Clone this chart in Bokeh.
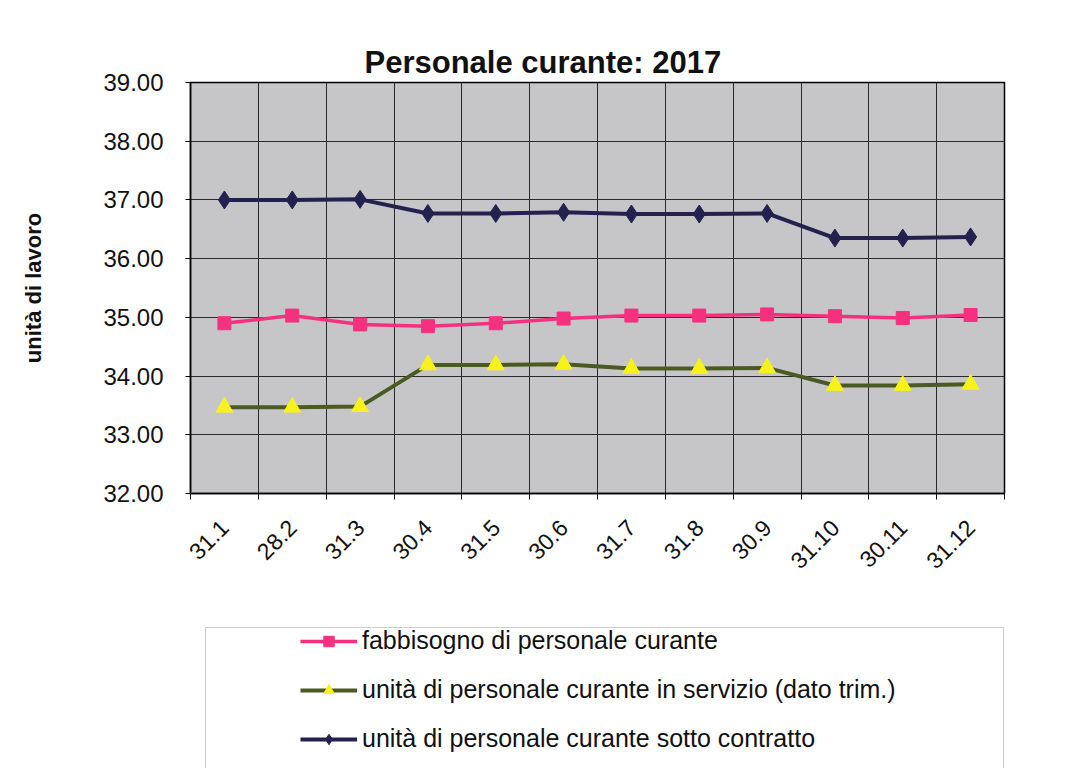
import math
from bokeh.plotting import figure
from bokeh.layouts import column
from bokeh.models import (Range1d, FixedTicker, NumeralTickFormatter, Legend,
                          LegendItem, BoxAnnotation)
from bokeh.embed import file_html
from bokeh.resources import INLINE

# Month-end reference dates
categories = ["31.1", "28.2", "31.3", "30.4", "31.5", "30.6",
              "31.7", "31.8", "30.9", "31.10", "30.11", "31.12"]

# Staff units (unità di lavoro)
fabbisogno = [34.90, 35.03, 34.88, 34.85, 34.90, 34.98,
              35.03, 35.03, 35.05, 35.02, 34.99, 35.04]
in_servizio = [33.47, 33.47, 33.48, 34.19, 34.19, 34.20,
               34.13, 34.13, 34.14, 33.84, 33.84, 33.86]
sotto_contratto = [37.00, 37.00, 37.01, 36.77, 36.77, 36.79,
                   36.76, 36.76, 36.77, 36.35, 36.35, 36.37]

series_names = ["fabbisogno di personale curante",
                "unità di personale curante in servizio (dato trim.)",
                "unità di personale curante sotto contratto"]

y_ticks = [32, 33, 34, 35, 36, 37, 38, 39]

FONT = "Liberation Sans"
PINK = "#f5317f"
OLIVE = "#4b5a22"
YELLOW = "#f8f21c"
NAVY = "#24214f"

# each category occupies one unit; points sit in the middle of their slot
x = [i + 0.5 for i in range(len(categories))]
all_series = [fabbisogno, in_servizio, sotto_contratto]

p = figure(width=1073, height=590, output_backend="svg", toolbar_location=None,
           x_range=Range1d(0, len(categories)), y_range=Range1d(32, 39),
           min_border_left=190, min_border_right=69, min_border_top=82,
           min_border_bottom=97)

p.background_fill_color = "#c6c6c8"
p.border_fill_color = "white"
p.outline_line_color = "black"
p.outline_line_width = 1.5

# title
p.title.text = "Personale curante: 2017"
p.title.text_font = FONT
p.title.text_font_size = "31px"
p.title.text_font_style = "bold"
p.title.text_color = "#111111"
p.title.align = "left"
p.title.offset = 174
p.title.standoff = 6

# x axis: labels at slot centres, tick marks and grid at slot boundaries
boundaries = list(range(len(categories) + 1))
p.xaxis.ticker = FixedTicker(ticks=x, minor_ticks=boundaries)
p.xaxis.major_label_overrides = {xi: c for xi, c in zip(x, categories)}
p.xaxis.major_label_orientation = math.pi / 4
p.xaxis.major_label_text_font = FONT
p.xaxis.major_label_text_font_size = "23px"
p.xaxis.major_label_text_color = "#111111"
p.xaxis.major_label_standoff = 24
p.xaxis.major_tick_line_color = None
p.xaxis.minor_tick_line_color = "black"
p.xaxis.minor_tick_out = 6
p.xaxis.minor_tick_in = 0
p.xaxis.axis_line_color = "black"
p.xaxis.axis_line_width = 1.5
p.xgrid.ticker = FixedTicker(ticks=boundaries)
p.xgrid.grid_line_color = "#2a2a2a"
p.xgrid.grid_line_width = 1

# y axis
p.yaxis.ticker = FixedTicker(ticks=y_ticks)
p.yaxis.formatter = NumeralTickFormatter(format="0.00")
p.yaxis.major_label_text_font = FONT
p.yaxis.major_label_text_font_size = "24px"
p.yaxis.major_label_text_color = "#111111"
p.yaxis.major_label_standoff = 22
p.yaxis.major_tick_out = 5
p.yaxis.major_tick_in = 0
p.yaxis.minor_tick_line_color = None
p.yaxis.axis_line_color = "black"
p.yaxis.axis_line_width = 1.5
p.yaxis.axis_label = "unità di lavoro"
p.yaxis.axis_label_text_font = FONT
p.yaxis.axis_label_text_font_size = "22px"
p.yaxis.axis_label_text_font_style = "bold"
p.yaxis.axis_label_text_color = "#111111"
p.yaxis.axis_label_standoff = 54
p.ygrid.grid_line_color = "#2a2a2a"
p.ygrid.grid_line_width = 1

# series
line_styles = [dict(line_color=PINK, line_width=3.5),
               dict(line_color=OLIVE, line_width=4),
               dict(line_color=NAVY, line_width=4)]
marker_styles = [dict(marker="square", size=13, fill_color=PINK, line_color=PINK),
                 dict(marker="triangle", size=17, fill_color=YELLOW, line_color=YELLOW),
                 dict(marker="diamond", size=18, fill_color=NAVY, line_color=NAVY)]

for values, ls, ms in zip(all_series, line_styles, marker_styles):
    p.line(x, values, **ls)
    p.scatter(x, values, **ms)

# legend panel underneath the chart; its renderers share the series data
# but fall outside this panel's y range, so only the legend entries show
leg = figure(width=1073, height=178, output_backend="svg", toolbar_location=None,
             title=None, x_axis_type=None, y_axis_type=None,
             x_range=Range1d(0, len(categories)), y_range=Range1d(0, 1),
             min_border_left=190, min_border_right=69, min_border_top=0,
             min_border_bottom=0)
leg.outline_line_color = None
leg.grid.grid_line_color = None
leg.background_fill_color = "white"
leg.border_fill_color = "white"

items = []
for name, values, ls, ms in zip(series_names, all_series, line_styles, marker_styles):
    r_line = leg.line(x, values, **ls)
    r_mark = leg.scatter(x, values, **ms)
    items.append(LegendItem(label=name, renderers=[r_line, r_mark]))

leg.add_layout(BoxAnnotation(left=205, right=1003, top=37, bottom=200,
                             left_units="canvas", right_units="canvas",
                             top_units="canvas", bottom_units="canvas",
                             fill_alpha=0, line_color="#5a5a5a", line_width=1.2))

legend = Legend(items=items, location=(110, 15))
legend.orientation = "vertical"
legend.padding = 0
legend.margin = 0
legend.spacing = 20
legend.glyph_width = 57
legend.glyph_height = 26
legend.label_height = 26
legend.label_standoff = 5
legend.label_text_font = FONT
legend.label_text_font_size = "25px"
legend.label_text_color = "#111111"
legend.border_line_color = None
legend.background_fill_alpha = 0
leg.add_layout(legend, "center")

page = column(p, leg, spacing=0)

open("out.html", "w").write(file_html(page, INLINE))
